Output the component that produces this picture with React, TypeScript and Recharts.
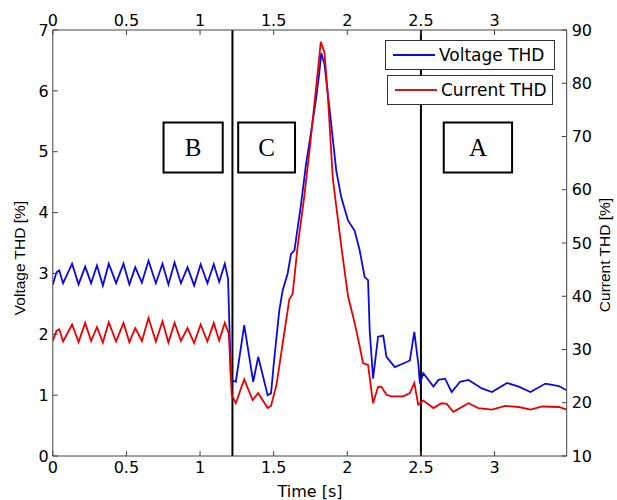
import React from 'react';
import { LineChart, Line, XAxis, YAxis, ReferenceLine, ReferenceArea, Label } from 'recharts';

// ---- data ----
const timeTicks = [0, 0.5, 1, 1.5, 2, 2.5, 3];
const voltageTicks = [0, 1, 2, 3, 4, 5, 6, 7];
const currentTicks = [10, 20, 30, 40, 50, 60, 70, 80, 90];

const seriesNames = ['Voltage THD', 'Current THD'];

const voltageTime = [
  0, 0.025, 0.044, 0.07, 0.131, 0.175, 0.22, 0.26, 0.3, 0.34, 0.38, 0.43, 0.48, 0.52, 0.56, 0.605,
  0.65, 0.7, 0.745, 0.785, 0.827, 0.87, 0.915, 0.96, 1.004, 1.05, 1.093, 1.13, 1.168, 1.19, 1.21,
  1.243, 1.3, 1.361, 1.395, 1.459, 1.482, 1.5, 1.538, 1.561, 1.595, 1.618, 1.641, 1.686, 1.72,
  1.755, 1.789, 1.81, 1.823, 1.845, 1.891, 1.925, 1.959, 2.005, 2.05, 2.084, 2.118, 2.141, 2.152,
  2.175, 2.209, 2.244, 2.266, 2.323, 2.38, 2.425, 2.455, 2.482, 2.493, 2.516, 2.585, 2.619, 2.664,
  2.709, 2.766, 2.823, 2.914, 2.982, 3.085, 3.164, 3.244, 3.346, 3.437, 3.49,
];
const voltageTHD = [
  2.82, 3.02, 3.05, 2.84, 3.16, 2.82, 3.11, 2.84, 3.13, 2.8, 3.16, 2.84, 3.16, 2.82, 3.1, 2.85,
  3.21, 2.84, 3.16, 2.82, 3.18, 2.84, 3.1, 2.8, 3.15, 2.84, 3.15, 2.86, 3.16, 2.92, 1.25,
  1.22, 2.15, 1.22, 1.63, 1.0, 1.03, 1.5, 2.39, 2.72, 3.0, 3.32, 3.38, 4.14, 4.8,
  5.34, 5.89, 6.3, 6.62, 6.44, 5.45, 4.69, 4.25, 3.87, 3.7, 3.38, 2.94, 2.89, 2.07,
  1.27, 1.96, 1.98, 1.63, 1.46, 1.52, 1.57, 2.04, 1.52, 1.19, 1.36, 1.14, 1.25, 1.27,
  1.05, 1.22, 1.25, 1.11, 1.05, 1.2, 1.14, 1.05, 1.19, 1.15, 1.08,
];

const currentTime = [
  0, 0.025, 0.044, 0.07, 0.131, 0.175, 0.22, 0.26, 0.3, 0.34, 0.38, 0.43, 0.48, 0.52, 0.56, 0.605,
  0.65, 0.7, 0.745, 0.785, 0.827, 0.87, 0.915, 0.96, 1.004, 1.05, 1.093, 1.13, 1.168, 1.195, 1.215,
  1.243, 1.3, 1.357, 1.395, 1.459, 1.482, 1.52, 1.572, 1.606, 1.629, 1.663, 1.708, 1.742, 1.776,
  1.81, 1.82, 1.845, 1.868, 1.902, 1.959, 2.005, 2.05, 2.084, 2.107, 2.141, 2.175, 2.209, 2.232,
  2.266, 2.3, 2.38, 2.425, 2.455, 2.482, 2.516, 2.585, 2.64, 2.675, 2.72, 2.823, 2.89, 2.982,
  3.073, 3.164, 3.244, 3.324, 3.437, 3.49,
];
const currentTHD = [
  31.6, 33.5, 33.8, 31.5, 34.7, 31.4, 35.0, 31.6, 34.2, 31.3, 35.1, 31.5, 35.0, 31.4, 34.0, 31.6,
  35.9, 31.5, 35.3, 31.3, 35.0, 31.6, 34.0, 31.2, 34.7, 31.5, 35.0, 31.7, 35.0, 33.0, 21.5,
  19.9, 24.4, 20.5, 21.8, 19.0, 19.4, 23.5, 33.1, 39.4, 40.5, 49.4, 58.8, 67.0, 76.0,
  85.0, 87.8, 85.8, 77.6, 62.0, 49.4, 40.0, 35.0, 30.6, 27.4, 27.1, 19.9, 23.0, 23.0,
  21.5, 21.2, 21.2, 21.8, 23.7, 19.6, 20.4, 19.0, 19.9, 19.8, 18.3, 19.9, 19.0, 18.7,
  19.4, 19.2, 18.7, 19.3, 19.2, 18.7,
];

const eventTimes = [1.22, 2.5];
const regionLabels = ['B', 'C', 'A'];
const regionStart = [0.752, 1.259, 2.655];
const regionEnd = [1.154, 1.645, 3.119];
const regionLow = 4.66;
const regionHigh = 5.48;

const voltageData = voltageTime.map((t, i) => ({ t, v: voltageTHD[i] }));
const currentData = currentTime.map((t, i) => ({ t, c: currentTHD[i] }));

// ---- styling ----
const W = 617;
const H = 500;
const BLUE = '#0a0ae0';
const RED = '#e80000';
const AXIS = '#444';
const tickFont = { fontFamily: 'DejaVu Sans', fontSize: 16, fill: '#000' };

const LegendBox = ({ left, top, width, color, text }: any) => (
  <div
    style={{
      position: 'absolute',
      left,
      top,
      width,
      height: 30,
      boxSizing: 'border-box',
      border: '1px solid #333',
      background: '#fff',
      display: 'flex',
      alignItems: 'center',
      fontFamily: 'DejaVu Sans',
      fontSize: 17,
      color: '#000',
    }}
  >
    <div style={{ width: 42, height: 2, background: color, marginLeft: 7, marginRight: 4 }} />
    <span style={{ whiteSpace: 'nowrap' }}>{text}</span>
  </div>
);

export default function App() {
  return (
    <div style={{ position: 'absolute', left: 0, top: 0, width: W, height: H, background: '#fff' }}>
      <LineChart width={W} height={H} margin={{ top: 0, right: 0, bottom: 0, left: 0 }}>
        <XAxis
          xAxisId="bottom"
          type="number"
          dataKey="t"
          domain={[0, 3.49]}
          ticks={timeTicks}
          allowDataOverflow
          height={44}
          orientation="bottom"
          tickSize={-5}
          tickMargin={11}
          tick={tickFont}
          stroke={AXIS}
          tickLine={{ stroke: AXIS }}
          axisLine={{ stroke: AXIS }}
        >
          <Label
            content={() => (
              <text x={310} y={491} textAnchor="middle" dominantBaseline="central" fontFamily="DejaVu Sans" fontSize={16} fill="#000">
                Time [s]
              </text>
            )}
          />
        </XAxis>
        <XAxis
          xAxisId="top"
          type="number"
          dataKey="t"
          domain={[0, 3.49]}
          ticks={timeTicks}
          allowDataOverflow
          height={30}
          orientation="top"
          tickSize={-5}
          tickMargin={9}
          tick={tickFont}
          stroke={AXIS}
          tickLine={{ stroke: AXIS }}
          axisLine={{ stroke: AXIS }}
        />
        <YAxis
          yAxisId="left"
          type="number"
          domain={[0, 7]}
          ticks={voltageTicks}
          width={52.8}
          orientation="left"
          tickSize={-5}
          tickMargin={9}
          tick={tickFont}
          stroke={AXIS}
          tickLine={{ stroke: AXIS }}
          axisLine={{ stroke: AXIS }}
        >
          <Label
            content={() => (
              <text x={19} y={258} transform="rotate(-90 19 258)" textAnchor="middle" dominantBaseline="central" fontFamily="Liberation Sans" fontSize={15.5} fill="#000">
                Voltage THD [%]
              </text>
            )}
          />
        </YAxis>
        <YAxis
          yAxisId="right"
          type="number"
          domain={[10, 90]}
          ticks={currentTicks}
          width={50.3}
          orientation="right"
          tickSize={-5}
          tickMargin={10}
          tick={tickFont}
          stroke={AXIS}
          tickLine={{ stroke: AXIS }}
          axisLine={{ stroke: AXIS }}
        >
          <Label
            content={() => (
              <text x={604} y={255} transform="rotate(-90 604 255)" textAnchor="middle" dominantBaseline="central" fontFamily="Liberation Sans" fontSize={15.5} fill="#000">
                Current THD [%]
              </text>
            )}
          />
        </YAxis>

        {eventTimes.map((t) => (
          <ReferenceLine key={t} x={t} xAxisId="bottom" yAxisId="left" stroke="#000" strokeWidth={2} />
        ))}

        {regionLabels.map((lab, i) => (
          <ReferenceArea
            key={lab}
            xAxisId="bottom"
            yAxisId="left"
            x1={regionStart[i]}
            x2={regionEnd[i]}
            y1={regionLow}
            y2={regionHigh}
            fill="#fff"
            fillOpacity={1}
            stroke="#000"
            strokeWidth={2}
            ifOverflow="visible"
          >
            <Label value={lab} position="center" fontFamily="Liberation Serif" fontSize={25} fill="#000" />
          </ReferenceArea>
        ))}

        <Line
          data={voltageData}
          xAxisId="bottom"
          yAxisId="left"
          dataKey="v"
          name={seriesNames[0]}
          stroke={BLUE}
          strokeWidth={1.8}
          dot={false}
          type="linear"
          isAnimationActive={false}
        />
        <Line
          data={currentData}
          xAxisId="bottom"
          yAxisId="right"
          dataKey="c"
          name={seriesNames[1]}
          stroke={RED}
          strokeWidth={1.8}
          dot={false}
          type="linear"
          isAnimationActive={false}
        />
      </LineChart>
      <LegendBox left={385} top={40} width={170} color={BLUE} text={seriesNames[0]} />
      <LegendBox left={387} top={75} width={166} color="#c02020" text={seriesNames[1]} />
    </div>
  );
}
